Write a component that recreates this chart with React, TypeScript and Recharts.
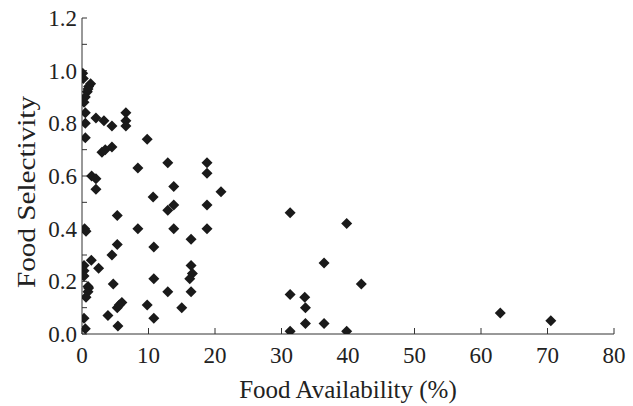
import { ScatterChart, Scatter, XAxis, YAxis, Label } from "recharts";

// food availability (%) for each observation
const availability = [
  0.1, 0.2, 1.3, 1.0, 0.8, 0.9, 0.5, 0.3, 0.5, 2.1, 3.3, 0.5, 4.5, 6.6, 6.6, 6.6, 0.5, 9.8, 3.0, 3.5, 4.5,
  8.4, 12.9, 18.8, 18.8,
  1.45, 2.1, 2.1, 0.4, 0.6, 5.3, 10.7, 13.8, 12.9, 13.8, 18.8, 20.9, 8.4, 13.8, 18.8, 16.4, 10.8, 5.3, 4.5,
  1.4, 2.5, 0.3, 0.3, 0.3, 0.9, 1.0, 0.9, 0.6, 16.4, 16.6, 16.2, 16.4, 10.8, 4.7, 12.9, 6.0, 5.6, 5.3, 9.8,
  15.0, 3.9, 10.8, 0.3, 5.4, 0.5,
  31.3, 39.8, 36.4, 42.0, 31.3, 33.5, 33.6, 33.6, 36.4, 31.3, 39.8, 62.9, 70.5,
];

// food selectivity, same order as availability
const selectivity = [
  0.99, 0.97, 0.95, 0.94, 0.92, 0.93, 0.9, 0.88, 0.84, 0.82, 0.81, 0.8, 0.79, 0.84, 0.81, 0.79, 0.745, 0.74, 0.69, 0.7, 0.71,
  0.63, 0.65, 0.65, 0.61,
  0.6, 0.59, 0.55, 0.4, 0.39, 0.45, 0.52, 0.56, 0.47, 0.49, 0.49, 0.54, 0.4, 0.4, 0.4, 0.36, 0.33, 0.34, 0.3,
  0.28, 0.25, 0.26, 0.24, 0.22, 0.18, 0.175, 0.16, 0.14, 0.26, 0.23, 0.21, 0.16, 0.21, 0.19, 0.16, 0.12, 0.11, 0.1, 0.11,
  0.1, 0.07, 0.06, 0.06, 0.03, 0.02,
  0.46, 0.42, 0.27, 0.19, 0.15, 0.14, 0.1, 0.04, 0.04, 0.01, 0.01, 0.08, 0.05,
];

const xTicks = [0, 10, 20, 30, 40, 50, 60, 70, 80];
const yTicks = [0, 0.1, 0.2, 0.3, 0.4, 0.5, 0.6, 0.7, 0.8, 0.9, 1.0, 1.1, 1.2];

const points = availability.map((x, i) => ({ x, y: selectivity[i] }));

const FONT = "Liberation Serif";
const AXIS = "#333";
const TEXT = "#222";
const tickStyle = { fill: TEXT, fontSize: 23, fontFamily: FONT };

function Diamond(props: any) {
  const { cx, cy } = props;
  const r = 5.5;
  return (
    <polygon
      points={`${cx},${cy - r} ${cx + r},${cy} ${cx},${cy + r} ${cx - r},${cy}`}
      fill="#1a1a1a"
    />
  );
}

export default function App() {
  return (
    <div style={{ position: "absolute", left: 0, top: 0, background: "#fff", fontFamily: FONT }}>
      <ScatterChart width={633} height={406} margin={{ top: 18, right: 19, bottom: 0, left: 0 }}>
        <XAxis
          type="number"
          dataKey="x"
          domain={[0, 80]}
          ticks={xTicks}
          interval={0}
          height={72}
          tickSize={-6}
          tickMargin={19}
          tick={tickStyle}
          stroke={AXIS}
          tickLine={{ stroke: AXIS }}
          allowDataOverflow
        >
          <Label
            content={({ viewBox }: any) => (
              <text
                x={viewBox.x + viewBox.width / 2}
                y={viewBox.y + 55}
                textAnchor="middle"
                dominantBaseline="central"
                fill={TEXT}
                fontSize={25}
                fontFamily={FONT}
              >
                Food Availability (%)
              </text>
            )}
          />
        </XAxis>
        <XAxis xAxisId="top" orientation="top" type="number" domain={[0, 80]} height={0} tick={false} tickLine={false} stroke={AXIS} />
        <YAxis
          type="number"
          dataKey="y"
          domain={[0, 1.2]}
          ticks={yTicks}
          interval={0}
          width={82}
          tickSize={-5}
          tickMargin={10}
          tick={tickStyle}
          tickFormatter={(v: number) => (Math.round(v * 10) % 2 === 0 ? v.toFixed(1) : "")}
          stroke={AXIS}
          tickLine={{ stroke: AXIS }}
          allowDataOverflow
        >
          <Label
            content={({ viewBox }: any) => {
              const cx = viewBox.x + 26;
              const cy = viewBox.y + viewBox.height / 2 + 16;
              return (
                <text
                  x={cx}
                  y={cy}
                  transform={`rotate(-90, ${cx}, ${cy})`}
                  textAnchor="middle"
                  dominantBaseline="central"
                  fill={TEXT}
                  fontSize={26}
                  fontFamily={FONT}
                  textLength={192}
                  lengthAdjust="spacingAndGlyphs"
                >
                  Food Selectivity
                </text>
              );
            }}
          />
        </YAxis>
        <YAxis yAxisId="right" orientation="right" type="number" domain={[0, 1.2]} width={0} tick={false} tickLine={false} stroke={AXIS} />
        <Scatter data={points} shape={<Diamond />} isAnimationActive={false} />
      </ScatterChart>
    </div>
  );
}
